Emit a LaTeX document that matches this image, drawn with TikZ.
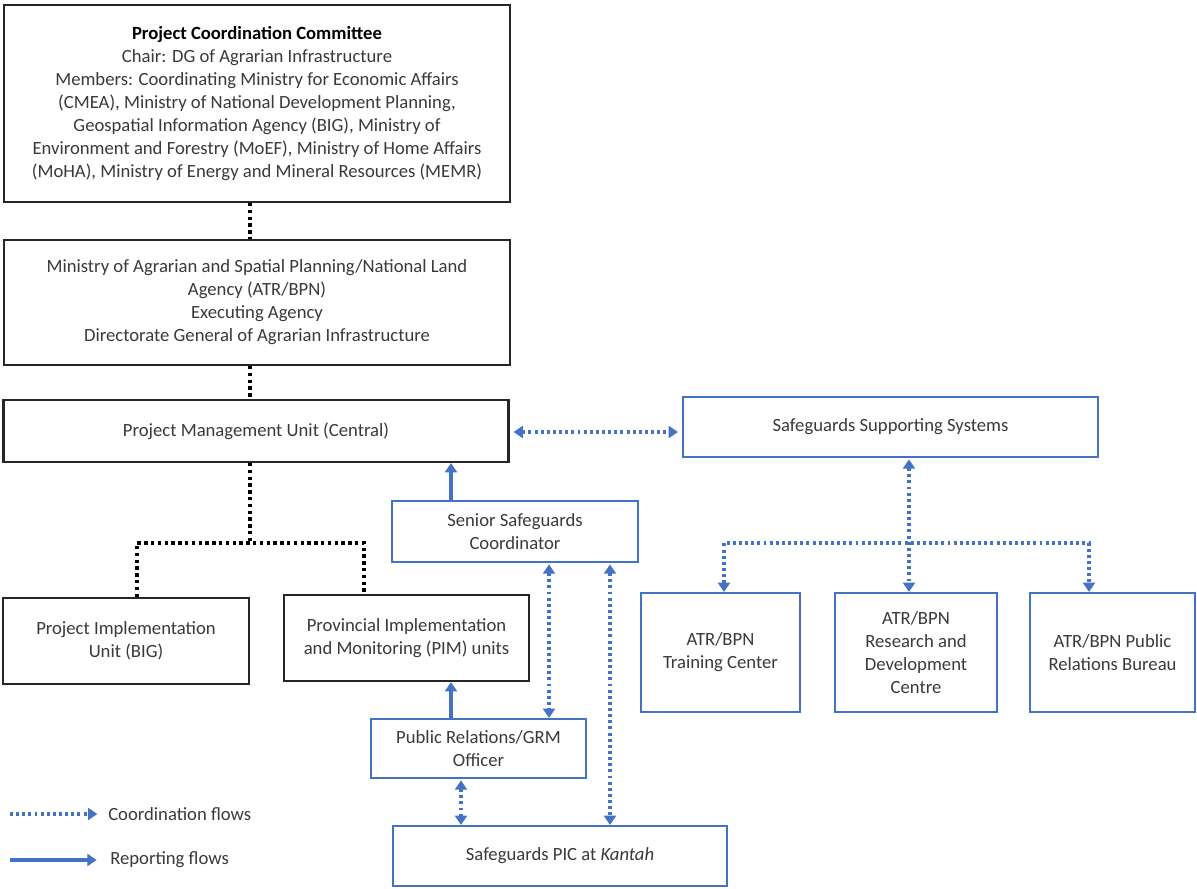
\documentclass[tikz,border=0pt]{standalone}
\usepackage{fontspec}
\setmainfont{Carlito}
\usetikzlibrary{arrows.meta}
\definecolor{obl}{HTML}{4472C4}
\definecolor{txt}{HTML}{3A3A3A}
\definecolor{bdr}{HTML}{262626}
\tikzset{
  bbox/.style={draw=bdr, line width=1.6pt, fill=white, align=center, text=txt, inner sep=3pt},
  blbox/.style={draw=obl, line width=1.6pt, fill=white, align=center, text=txt, inner sep=3pt},
  bdot/.style={draw=black, line width=2.5pt, dash pattern=on 2.5pt off 2.6pt},
  cflow/.style={draw=obl, line width=2.4pt, dash pattern=on 2.2pt off 2.4pt},
  rflow/.style={draw=obl, line width=2.6pt},
  otip/.tip={Triangle[width=9pt,length=7pt]},
}
\begin{document}
\begin{tikzpicture}[x=0.75pt,y=-0.75pt,font=\fontsize{14}{17.25}\selectfont]
\useasboundingbox (0,0) rectangle (1197,889);
\fill[white] (0,0) rectangle (1197,889);

% boxes
\node[bbox, minimum width=379.5pt, minimum height=147.75pt] (pcc) at (257,103.5)
 {\textcolor{black}{\textbf{Project Coordination Committee}}\\
  Chair: DG of Agrarian Infrastructure\\
  Members: Coordinating Ministry for Economic Affairs\\
  (CMEA), Ministry of National Development Planning,\\
  Geospatial Information Agency (BIG), Ministry of\\
  Environment and Forestry (MoEF), Ministry of Home Affairs\\
  (MoHA), Ministry of Energy and Mineral Resources (MEMR)};
\node[bbox, minimum width=379.5pt, minimum height=93.75pt] (mat) at (257,302.5)
 {Ministry of Agrarian and Spatial Planning/National Land\\
  Agency (ATR/BPN)\\
  Executing Agency\\
  Directorate General of Agrarian Infrastructure};
\node[bbox, minimum width=378.75pt, minimum height=46.5pt] (pmu) at (256,431)
 {Project Management Unit (Central)};
\node[bbox, minimum width=184.5pt, minimum height=64.5pt] (piu) at (126,641)
 {Project Implementation\\Unit (BIG)};
\node[bbox, minimum width=183.75pt, minimum height=64.5pt] (pim) at (406.5,638)
 {Provincial Implementation\\and Monitoring (PIM) units};
\node[blbox, minimum width=184.5pt, minimum height=45.75pt] (ssc) at (515,531.5)
 {Senior Safeguards\\Coordinator};
\node[blbox, minimum width=161.25pt, minimum height=44.25pt] (prg) at (478.5,748.5)
 {Public Relations/GRM\\Officer};
\node[blbox, minimum width=250.5pt, minimum height=45pt] (spic) at (560,856)
 {Safeguards PIC at \textit{Kantah}};
\node[blbox, minimum width=311.25pt, minimum height=45pt] (sss) at (890.5,427)
 {Safeguards Supporting Systems};
\node[blbox, minimum width=119.25pt, minimum height=89.25pt] (tc) at (720.5,652.5)
 {ATR/BPN\\Training Center};
\node[blbox, minimum width=121.5pt, minimum height=89.25pt] (rdc) at (916,652.5)
 {ATR/BPN\\Research and\\Development\\Centre};
\node[blbox, minimum width=123.75pt, minimum height=89.25pt] (prb) at (1112.5,652.5)
 {ATR/BPN Public\\Relations Bureau};

% helper coordinates
\coordinate (cA) at (250,0);
\coordinate (cL) at (137,0);
\coordinate (cR) at (364,0);
\coordinate (hb) at (0,543);
\coordinate (c451) at (451,0);
\coordinate (c549) at (549,0);
\coordinate (c610) at (610,0);
\coordinate (c461) at (461,0);
\coordinate (c909) at (909,0);
\coordinate (c724) at (724,0);
\coordinate (c1089) at (1089,0);
\coordinate (h2) at (0,543);
\coordinate (y432) at (0,432);

% black dotted hierarchy
\draw[bdot] (pcc.south -| cA) -- (mat.north -| cA);
\draw[bdot] (mat.south -| cA) -- (pmu.north -| cA);
\draw[bdot] (pmu.south -| cA) -- (cA |- hb);
\draw[bdot] (piu.north -| cL) -- (cL |- hb) -- (cR |- hb) -- (pim.north -| cR);

% reporting flows
\draw[rflow,-otip] (ssc.north -| c451) -- (pmu.south -| c451);
\draw[rflow,-otip] (prg.north -| c451) -- (pim.south -| c451);

% coordination flows
\draw[cflow,otip-otip,shorten <=3pt,shorten >=3pt] (pmu.east |- y432) -- (sss.west |- y432);
\draw[cflow,otip-otip,shorten <=1pt] (ssc.south -| c549) -- (prg.north -| c549);
\draw[cflow,otip-otip,shorten <=1pt] (ssc.south -| c610) -- (spic.north -| c610);
\draw[cflow,otip-otip,shorten <=1pt] (prg.south -| c461) -- (spic.north -| c461);
\draw[cflow,otip-otip,shorten <=1pt] (sss.south -| c909) -- (rdc.north -| c909);
\draw[cflow,otip-otip] (tc.north -| c724) -- (c724 |- h2) -- (c1089 |- h2) -- (prb.north -| c1089);

% legend
\node[anchor=west, text=txt, inner sep=0pt] (lg1) at (108,814) {Coordination flows};
\node[anchor=west, text=txt, inner sep=0pt] (lg2) at (110,860) {Reporting flows};
\coordinate (la) at (10,814);
\coordinate (lb) at (10,860);
\draw[cflow,-otip,shorten >=8pt] (la) -- (lg1.west);
\draw[rflow,-otip,shorten >=10pt] (lb) -- (lg2.west);
\end{tikzpicture}
\end{document}
